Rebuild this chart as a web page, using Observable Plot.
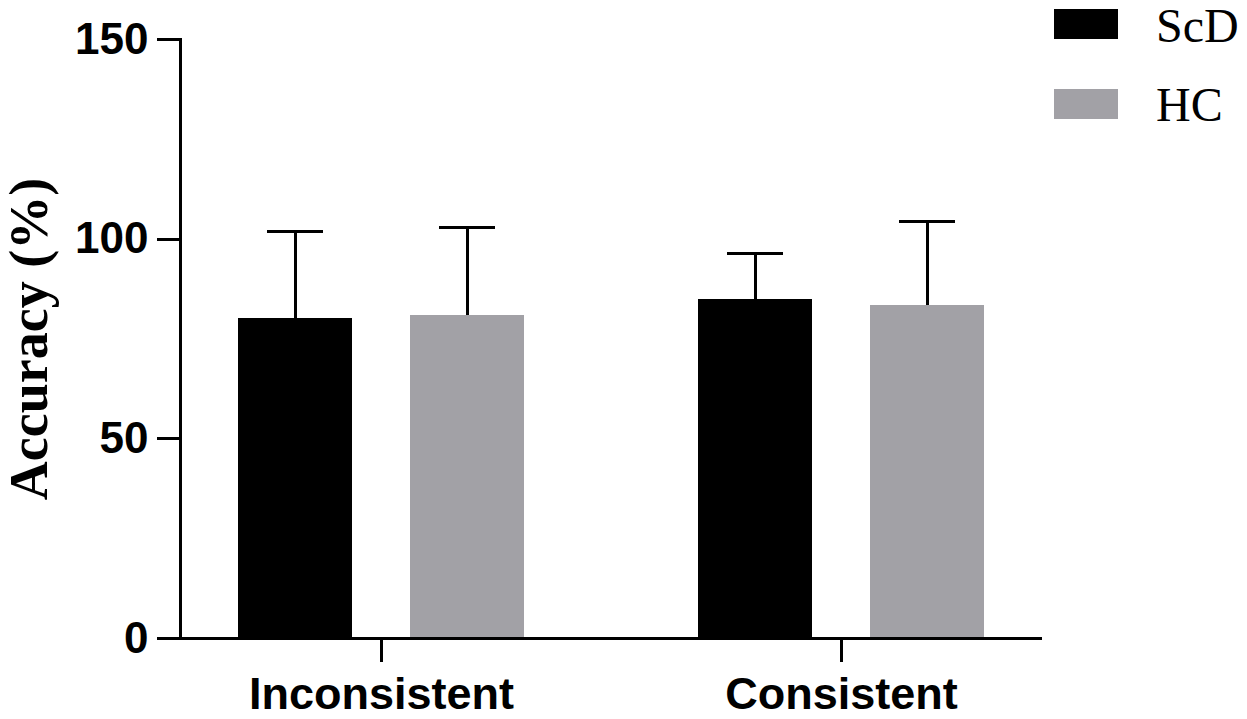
<!DOCTYPE html>
<html>
<head>
<meta charset="utf-8">
<script src="https://cdn.jsdelivr.net/npm/d3@7"></script>
<script src="https://cdn.jsdelivr.net/npm/@observablehq/plot@0.6"></script>
<style>
  html, body { margin: 0; padding: 0; background: #fff; }
  #wrap { position: relative; width: 1247px; height: 719px; overflow: hidden; }
  #wrap svg line, #wrap svg path, #wrap svg rect { shape-rendering: crispEdges; }
  .lg-swatch { position: absolute; width: 64px; height: 30px; }
  .lg-text { position: absolute; font-family: "Liberation Serif", "Times New Roman", serif; font-size: 48px; line-height: 48px; color: #000; white-space: nowrap; }
</style>
</head>
<body>
<div id="wrap"></div>
<script>
const conditions = ["Inconsistent", "Consistent"];
const groups = ["ScD", "HC"];
const meanScD = [80.1, 84.8];
const meanHC = [81.0, 83.4];
const sdScD = [21.9, 11.5];
const sdHC = [21.8, 20.9];
const yTicks = [0, 50, 100, 150];
const colors = ["#000000", "#a2a1a6"];
const yLabel = "Accuracy (%)";

const rows = conditions.flatMap((c, i) => [
  {condition: c, group: groups[0], mean: meanScD[i], sd: sdScD[i]},
  {condition: c, group: groups[1], mean: meanHC[i], sd: sdHC[i]}
]);

const SW = 3;

const chart = Plot.plot({
  width: 1247,
  height: 719,
  marginLeft: 180,
  marginRight: 205,
  marginTop: 39,
  marginBottom: 81,
  style: {background: "white", fontFamily: "'Liberation Sans', Arial, sans-serif", overflow: "visible"},
  fx: {domain: conditions, paddingInner: 0.1261, paddingOuter: 0, label: null, axis: null},
  x: {domain: groups, paddingInner: 0.337, paddingOuter: 0.337, axis: null},
  y: {domain: [0, 150], axis: null},
  color: {domain: groups, range: colors},
  marks: [
    Plot.barY(rows, {fx: "condition", x: "group", y: "mean", fill: "group"}),
    Plot.ruleX(rows, {fx: "condition", x: "group", y1: "mean", y2: d => d.mean + d.sd, stroke: "black", strokeWidth: SW}),
    Plot.tickY(rows, {fx: "condition", x: "group", y: d => d.mean + d.sd, stroke: "black", strokeWidth: SW, insetLeft: 29, insetRight: 29}),
    Plot.axisY({ticks: yTicks, tickSize: 23, tickPadding: 9, tickFormat: d => String(d), fontSize: 44, fontWeight: "bold", label: null, strokeWidth: SW}),
    Plot.axisFx({anchor: "bottom", tickSize: 24, tickPadding: 15, fontSize: 45, fontWeight: "bold", label: null, strokeWidth: SW}),
    Plot.ruleY([0], {strokeWidth: SW}),
    Plot.ruleY([0], {facetAnchor: "left", dx: 60, stroke: "black", strokeWidth: SW}),
    Plot.frame({anchor: "left", facetAnchor: "left", strokeWidth: SW}),
    Plot.text([yLabel], {frameAnchor: "left", facetAnchor: "left", textAnchor: "middle", rotate: -90, dx: -151, fontSize: 54, fontWeight: "bold", fontFamily: "'Liberation Serif', 'Times New Roman', serif", fill: "black"})
  ]
});

const wrap = document.getElementById("wrap");
wrap.appendChild(chart);

// Legend (HTML, top right)
groups.forEach((g, i) => {
  const sw = document.createElement("div");
  sw.className = "lg-swatch";
  sw.style.left = "1054px";
  sw.style.top = (9 + i * 80) + "px";
  sw.style.background = colors[i];
  wrap.appendChild(sw);
  const tx = document.createElement("div");
  tx.className = "lg-text";
  tx.style.left = "1156px";
  tx.style.top = (2 + i * 79) + "px";
  tx.textContent = g;
  wrap.appendChild(tx);
});
</script>
</body>
</html>
